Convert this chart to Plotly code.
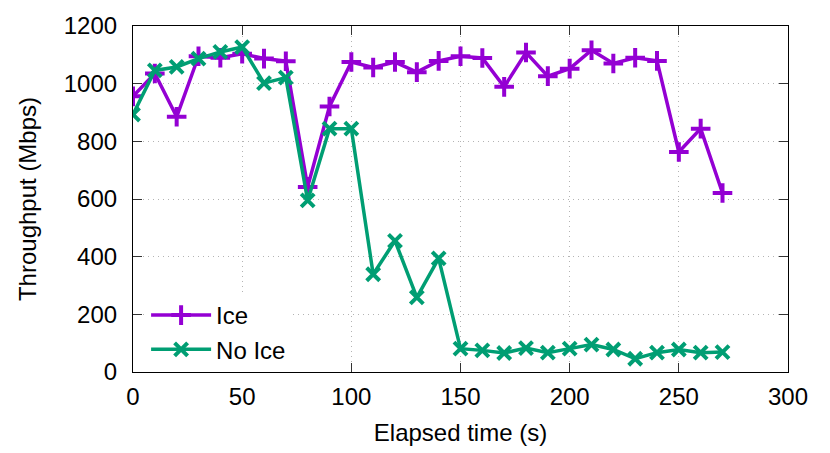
import plotly.graph_objects as go

elapsed = [0, 10, 20, 30, 40, 50, 60, 70, 80, 90, 100, 110, 120, 130, 140,
           150, 160, 170, 180, 190, 200, 210, 220, 230, 240, 250, 260, 270]
ice = [956, 1035, 885, 1095, 1090, 1104, 1087, 1078, 642, 921, 1075, 1056, 1075, 1040,
       1079, 1095, 1089, 989, 1108, 1026, 1052, 1116, 1070, 1090, 1079, 763, 844, 621]
no_ice = [893, 1046, 1058, 1087, 1110, 1127, 1002, 1021, 595, 844, 844, 339, 455, 259,
          394, 81, 75, 66, 83, 67, 81, 95, 78, 46, 67, 78, 67, 69]

x_ticks = [0, 50, 100, 150, 200, 250, 300]
y_ticks = [0, 200, 400, 600, 800, 1000, 1200]

FONT = "Liberation Sans, Arial, sans-serif"
PURPLE = "#9400D3"
GREEN = "#009E73"

fig = go.Figure()
fig.add_trace(go.Scatter(
    x=elapsed, y=ice, name="Ice", mode="lines+markers",
    line=dict(color=PURPLE, width=3.5),
    marker=dict(symbol="cross-thin", size=14, color=PURPLE,
                line=dict(width=4, color=PURPLE)),
))
fig.add_trace(go.Scatter(
    x=elapsed, y=no_ice, name="No Ice", mode="lines+markers",
    line=dict(color=GREEN, width=3.5),
    marker=dict(symbol="x-thin", size=13, color=GREEN,
                line=dict(width=4, color=GREEN)),
))

axis_common = dict(
    showline=True, mirror="allticks", linecolor="black", linewidth=1.2,
    ticks="inside", ticklen=9, tickwidth=1.2, tickcolor="#333333",
    showgrid=True, gridcolor="#b4b4b4", gridwidth=1, griddash="1px,4px",
    zeroline=False, automargin=False,
    tickfont=dict(family=FONT, size=24, color="black"),
)

fig.update_layout(
    width=830, height=453,
    margin=dict(l=125, r=50, t=18, b=89, autoexpand=False),
    paper_bgcolor="white", plot_bgcolor="white",
    font=dict(family=FONT, size=24, color="black"),
    showlegend=True,
    legend=dict(
        x=0.02, y=0.0, xanchor="left", yanchor="bottom",
        bgcolor="white", borderwidth=0,
        font=dict(family=FONT, size=24, color="black"),
        itemwidth=60, tracegroupgap=0,
    ),
    xaxis=dict(
        range=[0, 300], tickvals=x_ticks, ticktext=[str(v) for v in x_ticks],
        title=dict(text="Elapsed time (s)", font=dict(family=FONT, size=24), standoff=15),
        ticklabelstandoff=3,
        **axis_common,
    ),
    yaxis=dict(
        range=[0, 1200], tickvals=y_ticks, ticktext=[str(v) for v in y_ticks],
        title=dict(text="Throughput (Mbps)", font=dict(family=FONT, size=24), standoff=20),
        ticklabelstandoff=10,
        **axis_common,
    ),
)

fig.write_html("out.html")
